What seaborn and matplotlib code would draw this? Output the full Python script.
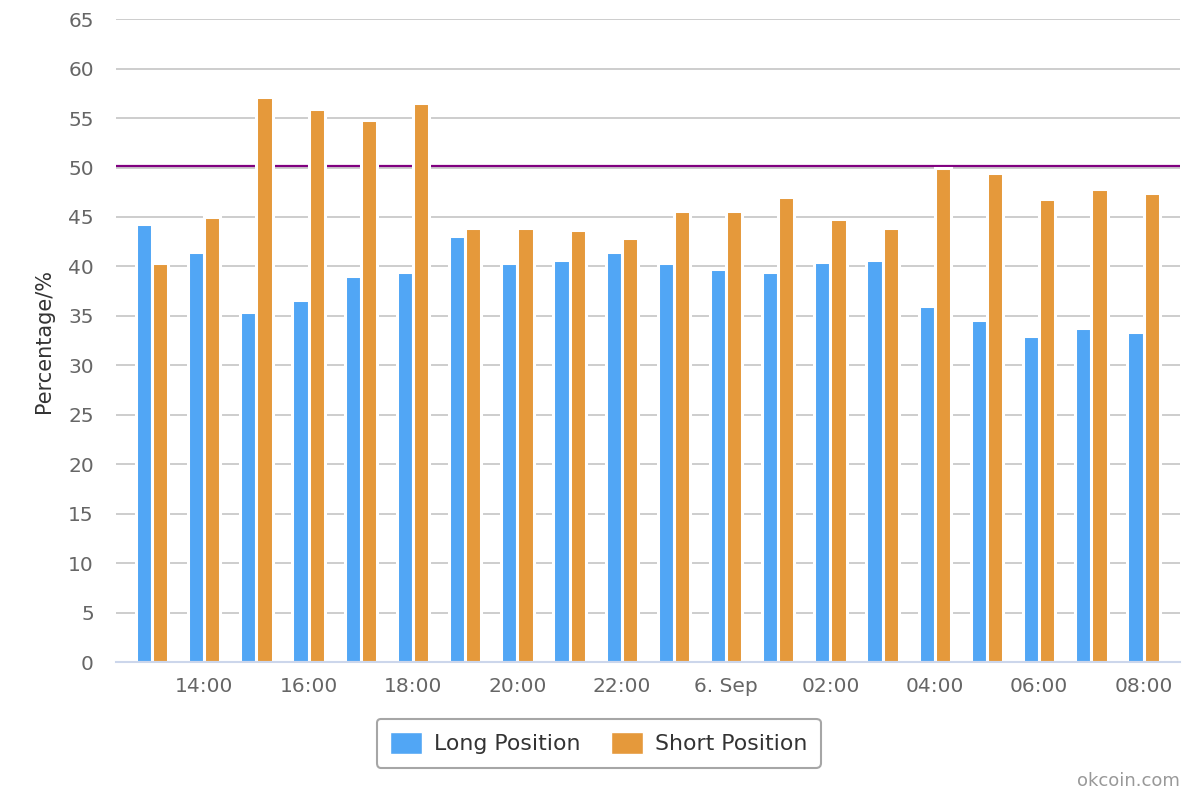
import pandas as pd
import numpy as np
import seaborn as sns
import matplotlib.pyplot as plt
from matplotlib.patches import Patch

hours = ["13:00", "14:00", "15:00", "16:00", "17:00", "18:00", "19:00", "20:00",
         "21:00", "22:00", "23:00", "00:00", "01:00", "02:00", "03:00", "04:00",
         "05:00", "06:00", "07:00", "08:00"]
long_pos = [44.3, 41.5, 35.4, 36.6, 39.0, 39.4, 43.1, 40.3, 40.6, 41.5,
            40.3, 39.7, 39.4, 40.4, 40.6, 36.0, 34.6, 33.0, 33.8, 33.4]
short_pos = [40.3, 45.0, 57.1, 55.9, 54.8, 56.5, 43.9, 43.9, 43.7, 42.9,
             45.6, 45.6, 47.0, 44.8, 43.9, 50.0, 49.4, 46.8, 47.8, 47.4]
tick_labels = ["14:00", "16:00", "18:00", "20:00", "22:00", "6. Sep",
               "02:00", "04:00", "06:00", "08:00"]
threshold = 50.2

df = pd.DataFrame({
    "time": hours * 2,
    "value": long_pos + short_pos,
    "series": ["Long Position"] * len(hours) + ["Short Position"] * len(hours),
})

colors = {"Long Position": "#51a6f5", "Short Position": "#e5993b"}

sns.set_style("white")
plt.rcParams["font.family"] = ["DejaVu Sans"]

fig = plt.figure(figsize=(12, 8), dpi=100)
ax = fig.add_axes([0.0967, 0.1725, 0.8863, 0.8035])

sns.barplot(data=df, x="time", y="value", hue="series", order=hours,
            palette=colors, width=0.62, edgecolor="white", linewidth=2.2,
            saturation=1, legend=False, ax=ax, zorder=3)

ax.axhline(threshold, color="#800080", linewidth=1.6, zorder=2)

ax.set_ylim(0, 65)
ax.set_yticks(np.arange(0, 66, 5))
ax.set_xlim(-0.69, len(hours) - 1 + 0.69)
ax.set_xticks(np.arange(1, len(hours), 2))
ax.set_xticklabels(tick_labels)
ax.yaxis.grid(True, color="#c0c0c0", linewidth=1.1, zorder=0)
ax.set_axisbelow(True)

for s in ["top", "right", "left"]:
    ax.spines[s].set_visible(False)
ax.spines["bottom"].set_color("#ccd6eb")
ax.spines["bottom"].set_linewidth(1.5)
ax.spines["bottom"].set_zorder(5)

ax.tick_params(axis="y", length=0, pad=16, labelsize=14.5, labelcolor="#666666")
ax.tick_params(axis="x", length=7, width=1.2, color="#ccd6eb", pad=4,
               labelsize=14.5, labelcolor="#666666")
ax.set_xlabel("")
ax.set_ylabel("Percentage/%", fontsize=15, color="#333333", labelpad=10)

handles = [Patch(facecolor=colors[k], label=k) for k in colors]
leg = fig.legend(handles=handles, loc="center", bbox_to_anchor=(0.499, 0.071),
                 ncol=2, fontsize=15.8, frameon=True, handlelength=1.45,
                 handleheight=1.15, handletextpad=0.55, columnspacing=1.4,
                 borderpad=0.6, borderaxespad=0, fancybox=True)
leg.get_frame().set_edgecolor("#909090")
leg.get_frame().set_linewidth(1.5)
for t in leg.get_texts():
    t.set_color("#333333")

fig.text(0.983, 0.013, "okcoin.com", ha="right", va="bottom",
         fontsize=13, color="#999999")

fig.savefig("out.png", dpi=100)
